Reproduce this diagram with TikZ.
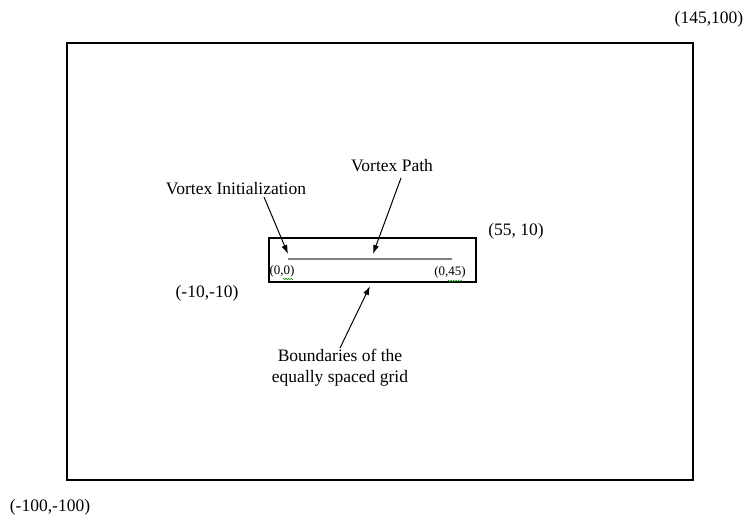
\documentclass[tikz,border=0pt]{standalone}
\usepackage{fontspec}
\setmainfont{Liberation Serif}
\usetikzlibrary{arrows.meta,decorations.pathmorphing}
\tikzset{
  lbl/.style={inner sep=0pt,font=\fontsize{17.5}{21}\selectfont},
  small/.style={inner sep=0pt,font=\fontsize{13}{15}\selectfont},
  arr/.style={line width=1pt,-{Latex[length=9pt,width=6pt]}},
  box/.style={draw,line width=2pt},
  squig/.style={draw=green!50!black,line width=0.5pt,decorate,decoration={zigzag,amplitude=0.8pt,segment length=2.5pt}}
}
\begin{document}
\begin{tikzpicture}[x=1pt,y=-1pt]
\useasboundingbox (0,0) rectangle (746,516);
\draw[box] (67,43) rectangle (693,480);
\draw[box,line width=1.6pt] (269,238) rectangle (476,282);
\draw[gray,line width=1.3pt] (288,259) -- (452,259);
\node[lbl] (vi) at (236,189) {Vortex Initialization};
\node[lbl] (vp) at (392,166) {Vortex Path};
\node[lbl,align=center] (bd) at (340,368) {Boundaries of the\\equally spaced grid};
\coordinate (viT) at (288,254);
\coordinate (vpT) at (373,254);
\coordinate (bdT) at (370,286);
\coordinate (viS) at (264,197);
\coordinate (vpS) at (401,178);
\coordinate (bdS) at (340,348);
\draw[arr] (viS) -- (viT);
\draw[arr] (vpS) -- (vpT);
\draw[arr] (bdS) -- (bdT);
\node[small] (o) at (282,271) {(0,0)};
\node[small] (e) at (450,272) {(0,45)};
\draw[squig] (283,279) -- (293,279);
\draw[squig] (448,281) -- (462,281);
\node[lbl] (m) at (207,293) {(-10,-10)};
\node[lbl] (p) at (516,231) {(55, 10)};
\node[lbl] (tr) at (709,19) {(145,100)};
\node[lbl] (bl) at (50,507) {(-100,-100)};
\end{tikzpicture}
\end{document}
